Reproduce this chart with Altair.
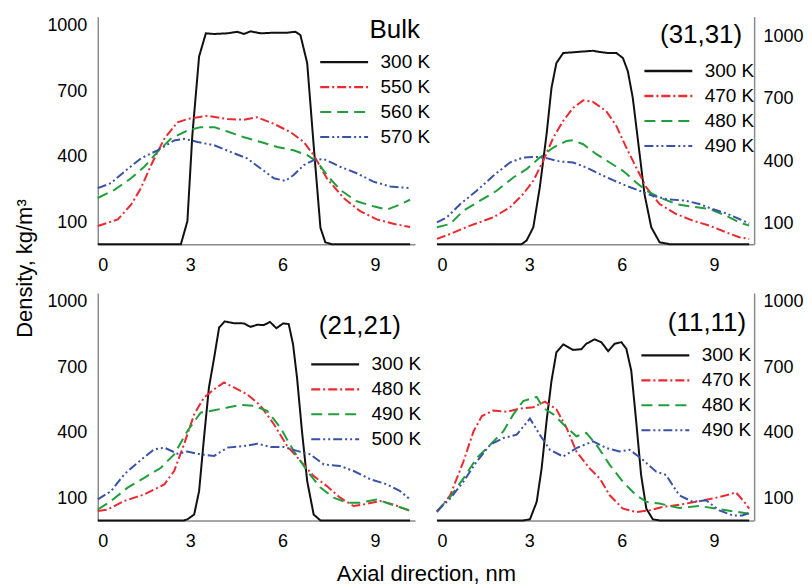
import altair as alt
import pandas as pd

FONT = "Liberation Sans"

# ---------------- data (x in nm, density in kg/m3) ----------------
# Panel "Bulk"
bulk_labels = ["300 K", "550 K", "560 K", "570 K"]
bulk_300_x = [0, 2.70, 2.91, 3.07, 3.29, 3.51, 3.78, 4.21, 4.53, 4.75, 4.96, 5.29, 5.72, 6.15, 6.42, 6.58, 6.80, 7.01, 7.23, 7.39, 7.60, 10.14]
bulk_300_y = [0, 0, 105, 497, 858, 964, 961, 964, 971, 961, 973, 964, 967, 967, 971, 956, 828, 452, 75, 8, 0, 0]
bulk_550_x = [0, 0.65, 1.08, 1.40, 1.73, 2.16, 2.59, 2.91, 3.56, 4.21, 4.75, 5.18, 5.72, 6.26, 6.69, 7.01, 7.44, 7.98, 8.52, 9.06, 9.60, 10.14]
bulk_550_y = [83, 113, 180, 256, 361, 482, 557, 572, 587, 572, 569, 580, 550, 512, 467, 407, 301, 211, 151, 113, 93, 78]
bulk_560_x = [0, 0.54, 1.08, 1.51, 1.94, 2.37, 2.91, 3.34, 3.78, 4.21, 4.75, 5.29, 5.83, 6.36, 6.80, 7.12, 7.44, 7.87, 8.41, 8.95, 9.39, 9.82, 10.14]
bulk_560_y = [211, 248, 301, 354, 422, 482, 520, 535, 535, 515, 489, 467, 444, 429, 407, 377, 316, 248, 196, 173, 158, 181, 203]
bulk_570_x = [0, 0.43, 0.86, 1.40, 1.94, 2.48, 2.80, 3.24, 3.78, 4.31, 4.85, 5.29, 5.72, 6.09, 6.36, 6.69, 7.01, 7.34, 7.87, 8.41, 8.95, 9.49, 10.14]
bulk_570_y = [256, 279, 331, 392, 429, 474, 482, 467, 452, 422, 392, 346, 301, 289, 316, 361, 384, 389, 354, 324, 286, 264, 256]

# Panel "(31,31)"
p31_labels = ["300 K", "470 K", "480 K", "490 K"]
p31_300_x = [0, 2.75, 2.91, 3.13, 3.34, 3.56, 3.72, 3.88, 4.10, 4.53, 5.07, 5.29, 5.56, 5.83, 6.04, 6.20, 6.36, 6.53, 6.74, 6.96, 7.23, 7.55, 10.14]
p31_300_y = [0, 0, 17, 81, 273, 528, 752, 872, 920, 925, 931, 925, 920, 920, 896, 832, 704, 497, 241, 81, 9, 0, 0]
p31_470_x = [0, 0.43, 1.08, 1.83, 2.37, 2.80, 3.13, 3.45, 3.78, 4.10, 4.42, 4.75, 5.07, 5.50, 5.83, 6.15, 6.47, 6.80, 7.23, 7.77, 8.31, 8.85, 9.39, 9.82, 10.14]
p31_470_y = [25, 49, 89, 129, 177, 241, 305, 401, 513, 593, 656, 692, 685, 640, 568, 465, 369, 273, 193, 145, 113, 89, 57, 33, 25]
p31_480_x = [0, 0.43, 0.86, 1.40, 1.94, 2.48, 2.91, 3.34, 3.78, 4.21, 4.42, 4.75, 5.18, 5.61, 6.04, 6.47, 6.80, 7.23, 7.77, 8.31, 8.85, 9.39, 9.82, 10.14]
p31_480_y = [81, 97, 161, 209, 257, 321, 361, 417, 465, 497, 500, 481, 433, 393, 353, 297, 257, 225, 193, 180, 169, 137, 105, 89]
p31_490_x = [0, 0.32, 0.76, 1.29, 1.83, 2.37, 2.80, 3.24, 3.56, 3.99, 4.42, 4.85, 5.29, 5.72, 6.15, 6.58, 7.01, 7.44, 8.09, 8.52, 8.95, 9.39, 9.82, 10.14]
p31_490_y = [105, 129, 193, 257, 329, 393, 417, 420, 414, 398, 393, 369, 337, 308, 281, 257, 233, 217, 209, 193, 169, 148, 121, 100]

# Panel "(21,21)"
p21_labels = ["300 K", "480 K", "490 K", "500 K"]
p21_300_x = [0, 2.80, 2.91, 3.13, 3.29, 3.45, 3.61, 3.78, 3.94, 4.12, 4.42, 4.75, 4.96, 5.18, 5.39, 5.59, 5.80, 6.02, 6.20, 6.34, 6.47, 6.63, 6.80, 7.01, 7.23, 10.14]
p21_300_y = [0, 0, 5, 27, 134, 379, 608, 745, 882, 910, 902, 901, 885, 895, 893, 908, 879, 901, 898, 806, 653, 409, 180, 27, 0, 0]
p21_480_x = [0, 0.32, 0.86, 1.51, 2.16, 2.48, 2.80, 3.13, 3.45, 3.78, 4.10, 4.42, 4.85, 5.29, 5.72, 6.15, 6.58, 7.01, 7.44, 7.87, 8.31, 8.74, 9.17, 9.60, 10.14]
p21_480_y = [43, 50, 89, 119, 165, 226, 348, 485, 562, 600, 631, 608, 577, 524, 440, 340, 272, 203, 157, 104, 66, 76, 89, 73, 43]
p21_490_x = [0, 0.43, 0.97, 1.51, 2.05, 2.48, 2.91, 3.34, 3.78, 4.21, 4.64, 5.07, 5.50, 5.93, 6.36, 6.80, 7.23, 7.66, 8.09, 8.52, 9.06, 9.60, 10.14]
p21_490_y = [50, 89, 150, 195, 241, 302, 409, 493, 504, 516, 528, 524, 501, 424, 318, 226, 150, 104, 81, 81, 96, 70, 46]
p21_500_x = [0, 0.43, 0.86, 1.29, 1.83, 2.16, 2.59, 2.91, 3.34, 3.78, 4.21, 4.75, 5.18, 5.61, 6.04, 6.47, 6.90, 7.34, 7.87, 8.31, 8.85, 9.39, 9.82, 10.14]
p21_500_y = [96, 134, 211, 264, 325, 333, 305, 315, 302, 295, 333, 340, 351, 336, 336, 318, 302, 256, 249, 226, 188, 165, 134, 96]

# Panel "(11,11)"
p11_labels = ["300 K", "470 K", "480 K", "490 K"]
p11_300_x = [0, 2.80, 3.02, 3.24, 3.40, 3.56, 3.72, 3.88, 4.10, 4.42, 4.69, 4.85, 5.12, 5.34, 5.56, 5.77, 5.99, 6.15, 6.31, 6.47, 6.63, 6.80, 7.01, 7.23, 10.14]
p11_300_y = [0, 0, 5, 85, 238, 454, 638, 769, 805, 780, 783, 808, 828, 815, 774, 808, 815, 785, 685, 454, 208, 54, 5, 0, 0]
p11_470_x = [0, 0.43, 0.86, 1.19, 1.46, 1.83, 2.27, 2.70, 3.13, 3.51, 3.88, 4.21, 4.53, 4.96, 5.29, 5.61, 6.04, 6.47, 6.90, 7.34, 7.87, 8.41, 8.95, 9.39, 9.71, 9.98, 10.14]
p11_470_y = [38, 115, 269, 408, 477, 503, 497, 512, 518, 543, 508, 423, 315, 238, 192, 115, 54, 38, 46, 62, 72, 85, 100, 115, 128, 85, 54]
p11_480_x = [0, 0.43, 0.86, 1.29, 1.73, 2.16, 2.48, 2.80, 3.24, 3.45, 3.78, 4.21, 4.53, 4.85, 5.18, 5.61, 6.04, 6.47, 6.80, 7.23, 7.87, 8.52, 9.06, 9.60, 10.14]
p11_480_y = [42, 108, 192, 285, 346, 408, 485, 546, 565, 515, 485, 426, 385, 400, 346, 254, 177, 115, 85, 77, 57, 66, 54, 42, 31]
p11_490_x = [0, 0.43, 0.86, 1.29, 1.73, 2.16, 2.59, 3.02, 3.34, 3.67, 4.10, 4.53, 5.07, 5.50, 5.93, 6.26, 6.69, 7.12, 7.44, 7.87, 8.31, 8.74, 9.17, 9.60, 9.92, 10.14]
p11_490_y = [42, 100, 177, 269, 346, 377, 392, 466, 392, 323, 292, 331, 362, 331, 315, 323, 277, 223, 208, 115, 85, 92, 46, 23, 23, 35]

x_ticks = [0, 3, 6, 9]
y_ticks = [100, 400, 700, 1000]

# ---------------- styling ----------------
COLORS = ["#111111", "#ea2a30", "#1f9f3c", "#3a52a6"]
DASHES = [[1, 0], [9, 3, 2, 3], [11, 6], [9, 3, 2, 3, 2, 3]]
W, H = 318, 228


def panel(name, labels, series, ymax, orient, title_pos, legend_pos,
          x_title=None, y_title=None):
    rows = []
    for lab, (xs, ys) in zip(labels, series):
        for xv, yv in zip(xs, ys):
            rows.append({"x": xv, "y": yv, "T": lab})
    df = pd.DataFrame(rows)

    leg = dict(orient="none", legendX=legend_pos[0], legendY=legend_pos[1],
               title=None, symbolType="M-4,0H4", symbolSize=144,
               symbolStrokeWidth=2, symbolOffset=14.5,
               labelFontSize=19, labelFont=FONT,
               labelColor="black", labelOffset=27, rowPadding=5, padding=0)

    xaxis_kw = dict(values=x_ticks, title=x_title)
    if x_title:
        xaxis_kw.update(titleX=329, titleY=60, titleAlign="center",
                        titleBaseline="alphabetic", titleFontSize=22,
                        titleFont=FONT, titleFontWeight="normal", titleColor="black")
    yaxis_kw = dict(values=y_ticks, orient=orient, title=y_title, format="d",
                    labelAlign="right" if orient == "left" else "left",
                    labelPadding=11 if orient == "left" else 9)
    if y_title:
        yaxis_kw.update(titleX=-66, titleY=252, titleAngle=270, titleAlign="center",
                        titleBaseline="alphabetic", titleFontSize=22,
                        titleFont=FONT, titleFontWeight="normal", titleColor="black")

    lines = alt.Chart(df).mark_line(strokeWidth=2).encode(
        x=alt.X("x:Q", scale=alt.Scale(domain=[0, 10.3], nice=False),
                axis=alt.Axis(**xaxis_kw)),
        y=alt.Y("y:Q", scale=alt.Scale(domain=[0, ymax], nice=False),
                axis=alt.Axis(**yaxis_kw)),
        color=alt.Color("T:N", scale=alt.Scale(domain=labels, range=COLORS),
                        legend=alt.Legend(**leg)),
        strokeDash=alt.StrokeDash("T:N", scale=alt.Scale(domain=labels, range=DASHES),
                                  legend=alt.Legend(**leg)),
        strokeWidth=alt.StrokeWidth("T:N", scale=alt.Scale(domain=labels, range=[2.4, 2, 2, 2]),
                                    legend=None),
    )
    title = alt.Chart(pd.DataFrame({"t": [name]})).mark_text(
        align="right", baseline="alphabetic", fontSize=26, font=FONT, color="black"
    ).encode(text="t:N", x=alt.value(title_pos[0]), y=alt.value(title_pos[1]))
    return alt.layer(lines, title).properties(width=W, height=H)


p_bulk = panel("Bulk", bulk_labels,
               [(bulk_300_x, bulk_300_y), (bulk_550_x, bulk_550_y),
                (bulk_560_x, bulk_560_y), (bulk_570_x, bulk_570_y)],
               1040, "left", (323, 21), (223, 36), y_title="Density, kg/m³")
p_31 = panel("(31,31)", p31_labels,
             [(p31_300_x, p31_300_y), (p31_470_x, p31_470_y),
              (p31_480_x, p31_480_y), (p31_490_x, p31_490_y)],
             1095, "right", (306, 26), (208, 45))
p_21 = panel("(21,21)", p21_labels,
             [(p21_300_x, p21_300_y), (p21_480_x, p21_480_y),
              (p21_490_x, p21_490_y), (p21_500_x, p21_500_y)],
             1040, "left", (304, 41), (214, 62), x_title="Axial direction, nm")
p_11 = panel("(11,11)", p11_labels,
             [(p11_300_x, p11_300_y), (p11_470_x, p11_470_y),
              (p11_480_x, p11_480_y), (p11_490_x, p11_490_y)],
             1040, "right", (310, 38), (205, 53))

chart = alt.concat(p_bulk, p_31, p_21, p_11, columns=2,
                   spacing={"row": 49, "column": 22}, bounds="flush").resolve_scale(
    color="independent", strokeDash="independent", strokeWidth="independent"
).properties(
    padding={"left": 6, "top": 7, "right": 0, "bottom": 0}
).configure_view(stroke=None).configure_axis(
    grid=False, ticks=False, domainColor="#8a8a8a", domainWidth=1.5,
    labelFont=FONT, labelFontSize=18, labelColor="black", labelPadding=11,
).configure_axisX(labelPadding=12)

chart.save("out.html", embed_options={"renderer": "svg", "actions": False})
